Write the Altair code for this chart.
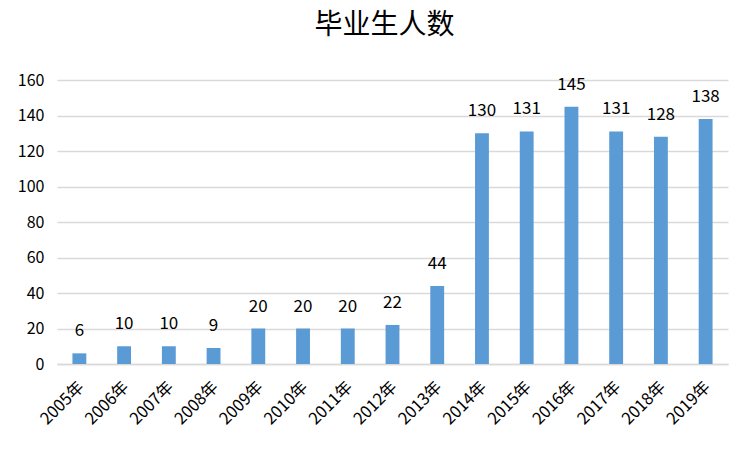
import altair as alt
import pandas as pd

years = ["2005年", "2006年", "2007年", "2008年", "2009年", "2010年", "2011年", "2012年",
         "2013年", "2014年", "2015年", "2016年", "2017年", "2018年", "2019年"]
counts = [6, 10, 10, 9, 20, 20, 20, 22, 44, 130, 131, 145, 131, 128, 138]
y_ticks = [0, 20, 40, 60, 80, 100, 120, 140, 160]

df = pd.DataFrame({"year": years, "count": counts})
FONT = "Noto Sans CJK SC"

x = alt.X("year:N", sort=years, title=None,
          scale=alt.Scale(paddingInner=0.69, paddingOuter=0.345),
          axis=alt.Axis(labelAngle=-45, labelAlign="right", labelBaseline="middle",
                        labelFontSize=16.5, labelColor="#000000", labelFont=FONT,
                        ticks=False, domainColor="#d9d9d9", domainWidth=1.5,
                        labelPadding=20, labelOffset=2))
y = alt.Y("count:Q", title=None,
          scale=alt.Scale(domain=[0, 160], nice=False),
          axis=alt.Axis(values=y_ticks, labelFontSize=16, labelColor="#000000", labelFont=FONT,
                        ticks=False, domain=False, gridColor="#d9d9d9", gridWidth=1.5,
                        labelPadding=13, labelOverlap=False))

bars = alt.Chart(df).mark_bar(color="#5b9bd5").encode(x=x, y=y)
text = alt.Chart(df).mark_text(dy=-22, fontSize=17, font=FONT, color="#000000").encode(
    x=x, y=y, text="count:Q")

chart = (bars + text).properties(
    width=671, height=284,
    title=alt.TitleParams("毕业生人数", fontSize=28, font=FONT, fontWeight="normal",
                          color="#000000", offset=32, dx=-8),
    padding={"left": 57, "top": 80, "right": 23, "bottom": 87},
    autosize=alt.AutoSizeParams(type="none"),
).configure_view(stroke=None)

chart.save("out.html", embed_options={"renderer": "svg", "actions": False})
